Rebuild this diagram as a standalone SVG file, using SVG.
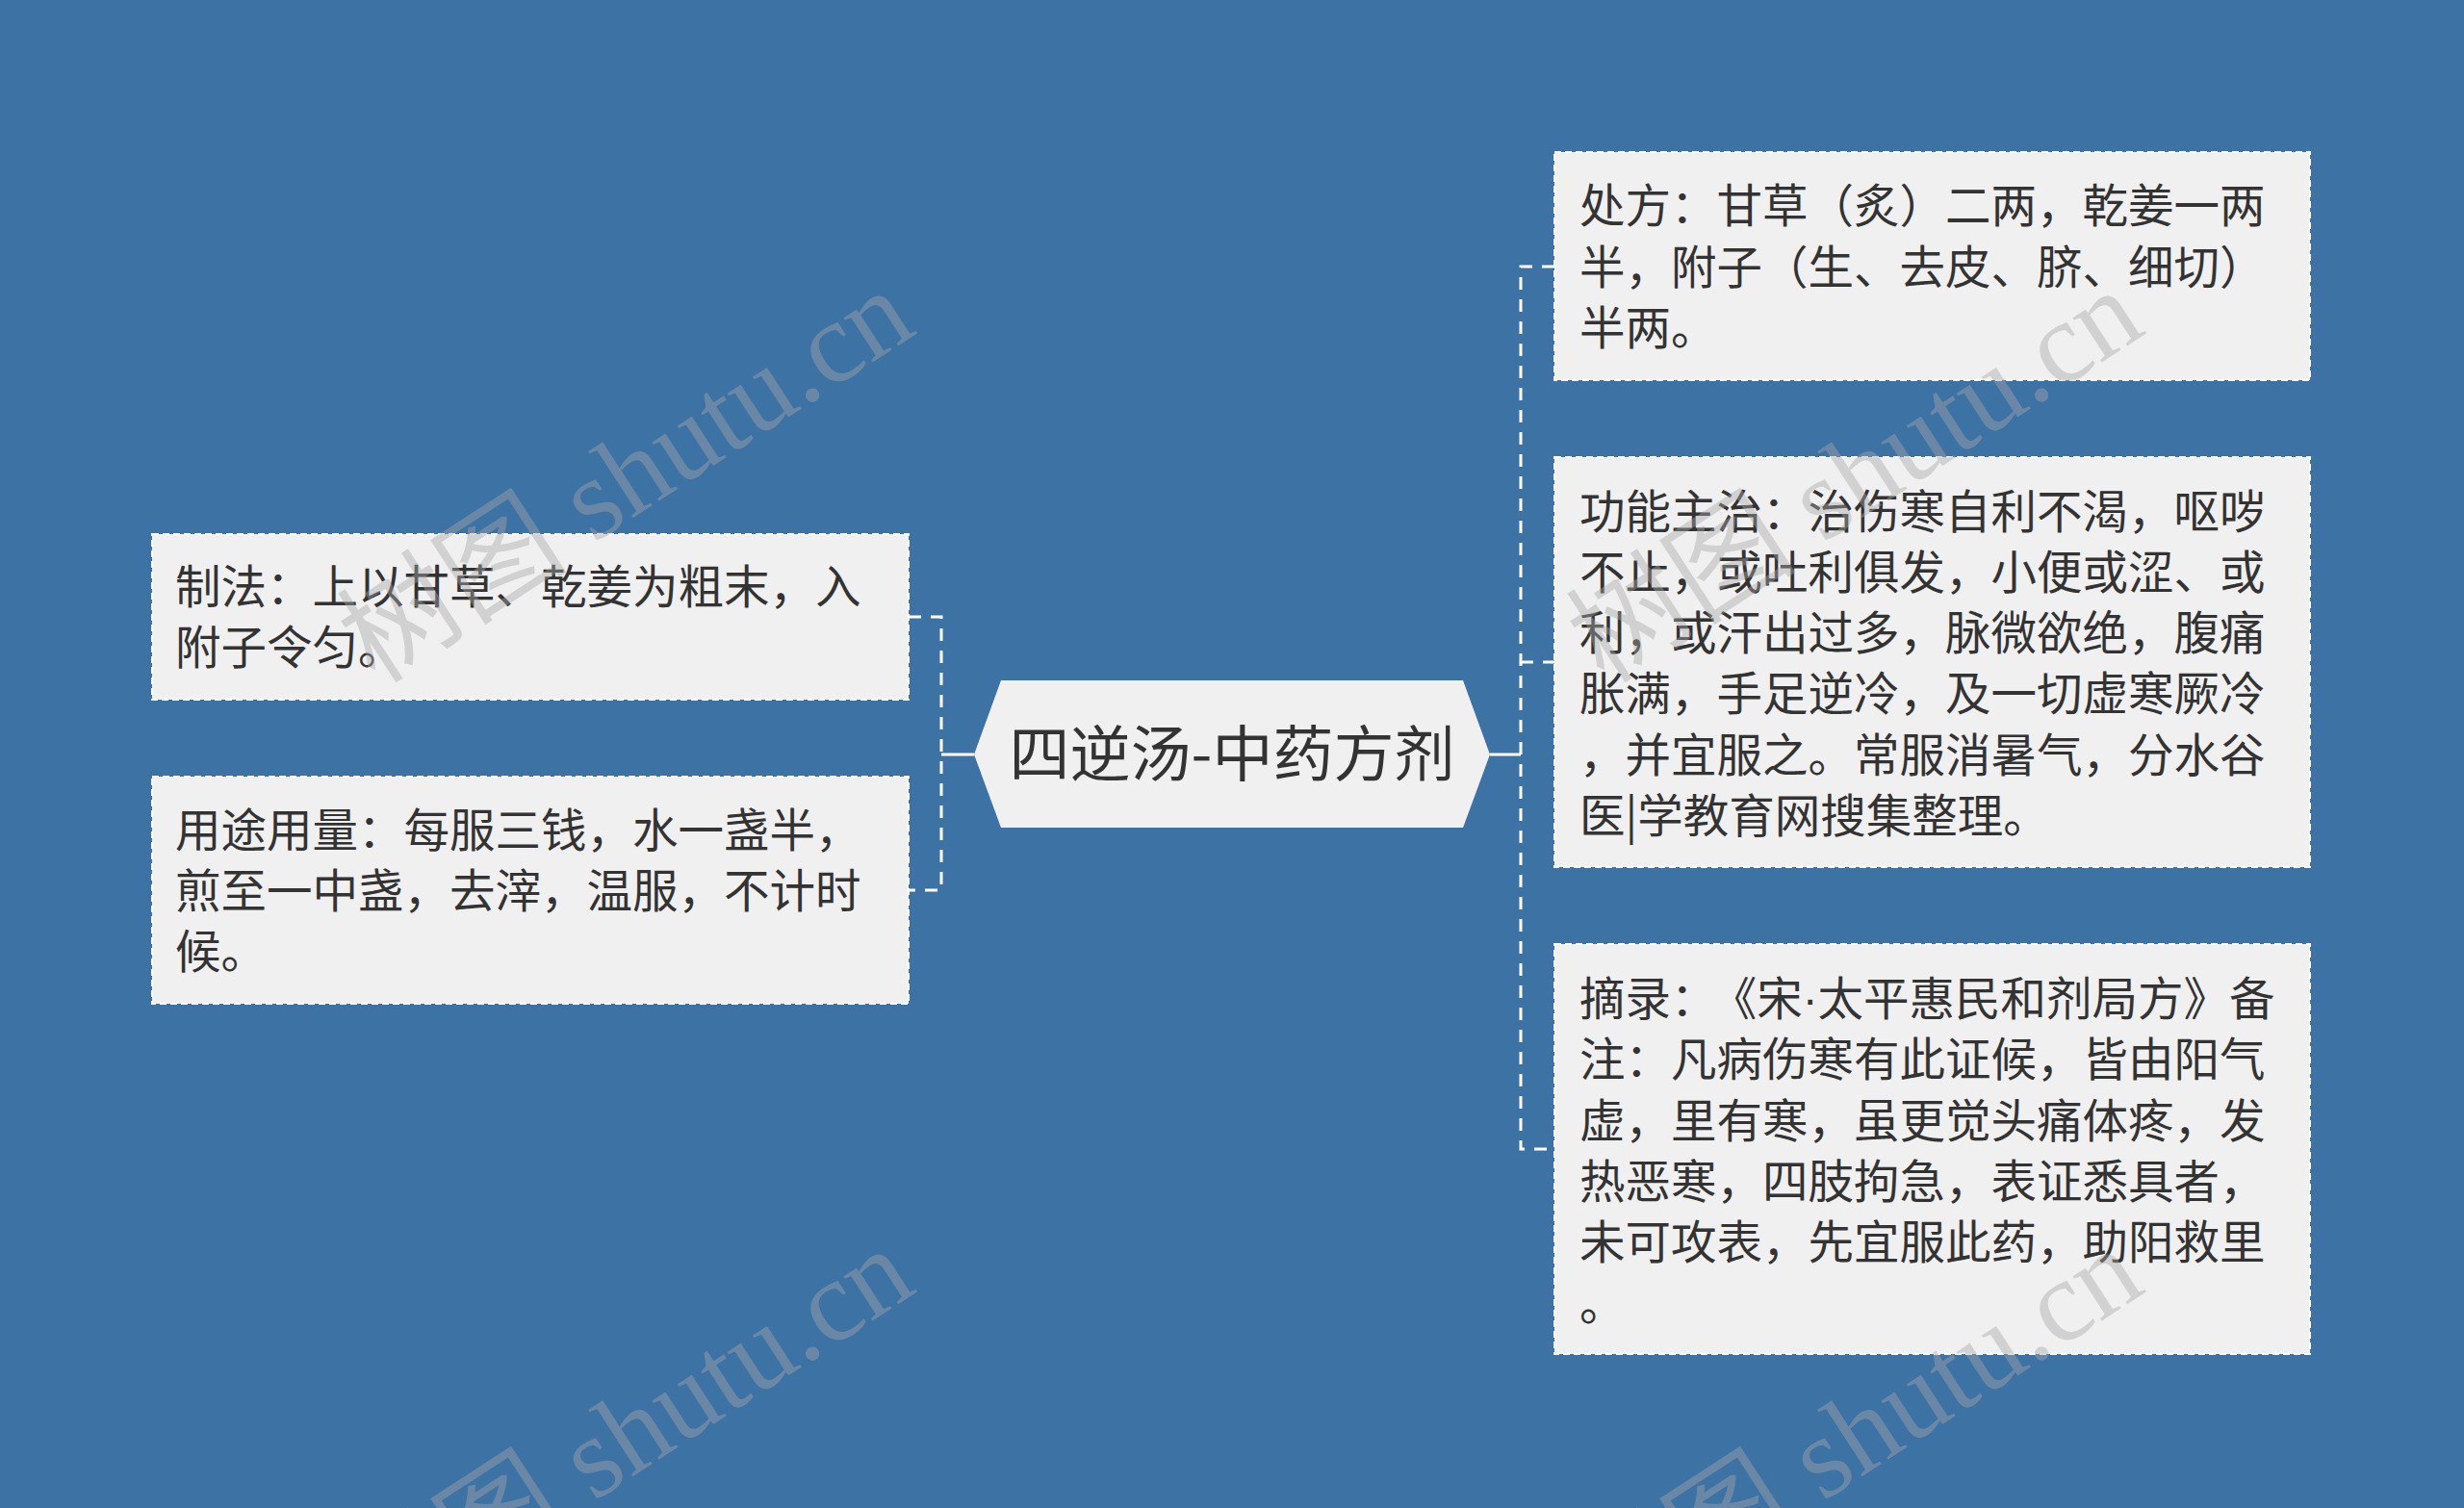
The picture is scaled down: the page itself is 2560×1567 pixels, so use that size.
<svg xmlns="http://www.w3.org/2000/svg" width="2560" height="1567" viewBox="0 0 2560 1567">
<style>
.bg{fill:#3d72a4}
.box{fill:#f0f0f0;stroke:#ffffff;stroke-width:2;stroke-dasharray:7 4}
.hub{fill:#f0f0f0}
.t{font-family:"Noto Sans CJK SC","Noto Sans",sans-serif;font-size:47.5px;fill:#333333}
.ht{font-family:"Noto Sans CJK SC","Noto Sans",sans-serif;font-size:63px;fill:#333333}
.nd{font-family:"Liberation Sans",sans-serif}
.dash{fill:none;stroke:#ffffff;stroke-width:3;stroke-dasharray:13 10}
.solid{fill:none;stroke:#ffffff;stroke-width:3}
.wm{font-family:"Liberation Serif","Noto Sans CJK SC",serif;font-size:120px;fill:#a8a8a8;opacity:0.42}
</style>
<rect class="bg" x="0" y="0" width="2560" height="1567"/>
<g id="connectors">
<path class="solid" d="M1012,784 H978"/>
<path class="dash" d="M944,641 H978 V925 H944"/>
<path class="solid" d="M1548,784 H1580"/>
<path class="dash" d="M1615,277 H1580 V1194 H1615"/>
<path class="dash" d="M1580,688 H1615"/>
</g>
<g id="hub">
<polygon class="hub" points="1012,784 1040,707 1520,707 1548,784 1520,860 1040,860"/>
<text class="ht" x="1280" y="806" text-anchor="middle">四逆汤-中药方剂</text>
</g>
<g id="node-zhifa">
<rect class="box" x="158" y="555" width="786" height="172"/>
<text class="t" x="182" y="627">制法：上以甘草、乾姜为粗末，入</text>
<text class="t" x="182" y="690">附子令匀。</text>
</g>
<g id="node-yongtu">
<rect class="box" x="158" y="807" width="786" height="236"/>
<text class="t" x="182" y="880">用途用量：每服三钱，水一盏半，</text>
<text class="t" x="182" y="943">煎至一中盏，去滓，温服，不计时</text>
<text class="t" x="182" y="1006">候。</text>
</g>
<g id="node-chufang">
<rect class="box" x="1615" y="158" width="785" height="237"/>
<text class="t" x="1641" y="231">处方：甘草（炙）二两，乾姜一两</text>
<text class="t" x="1641" y="295">半，附子（生、去皮、脐、细切）</text>
<text class="t" x="1641" y="358">半两。</text>
</g>
<g id="node-gongneng">
<rect class="box" x="1615" y="475" width="785" height="426"/>
<text class="t" x="1641" y="549">功能主治：治伤寒自利不渴，呕哕</text>
<text class="t" x="1641" y="612">不止，或吐利俱发，小便或涩、或</text>
<text class="t" x="1641" y="675">利，或汗出过多，脉微欲绝，腹痛</text>
<text class="t" x="1641" y="738">胀满，手足逆冷，及一切虚寒厥冷</text>
<text class="t" x="1641" y="802">，并宜服之。常服消暑气，分水谷</text>
<text class="t" x="1641" y="865">医|学教育网搜集整理。</text>
</g>
<g id="node-zhailu">
<rect class="box" x="1615" y="981" width="785" height="426"/>
<text class="t" x="1641" y="1055">摘录：<tspan dx="18">《宋</tspan><tspan class="nd">·</tspan>太平惠民和剂局方》备</text>
<text class="t" x="1641" y="1118">注：凡病伤寒有此证候，皆由阳气</text>
<text class="t" x="1641" y="1182">虚，里有寒，虽更觉头痛体疼，发</text>
<text class="t" x="1641" y="1245">热恶寒，四肢拘急，表证悉具者，</text>
<text class="t" x="1641" y="1308">未可攻表，先宜服此药，助阳救里</text>
<text class="t" x="1641" y="1372">。</text>
</g>
<g id="watermarks">
<text class="wm" transform="translate(390,712) rotate(-33)">树图 shutu.cn</text>
<text class="wm" transform="translate(1667,712) rotate(-33)">树图 shutu.cn</text>
<text class="wm" transform="translate(390,1708) rotate(-33)">树图 shutu.cn</text>
<text class="wm" transform="translate(1667,1708) rotate(-33)">树图 shutu.cn</text>
</g>
</svg>
